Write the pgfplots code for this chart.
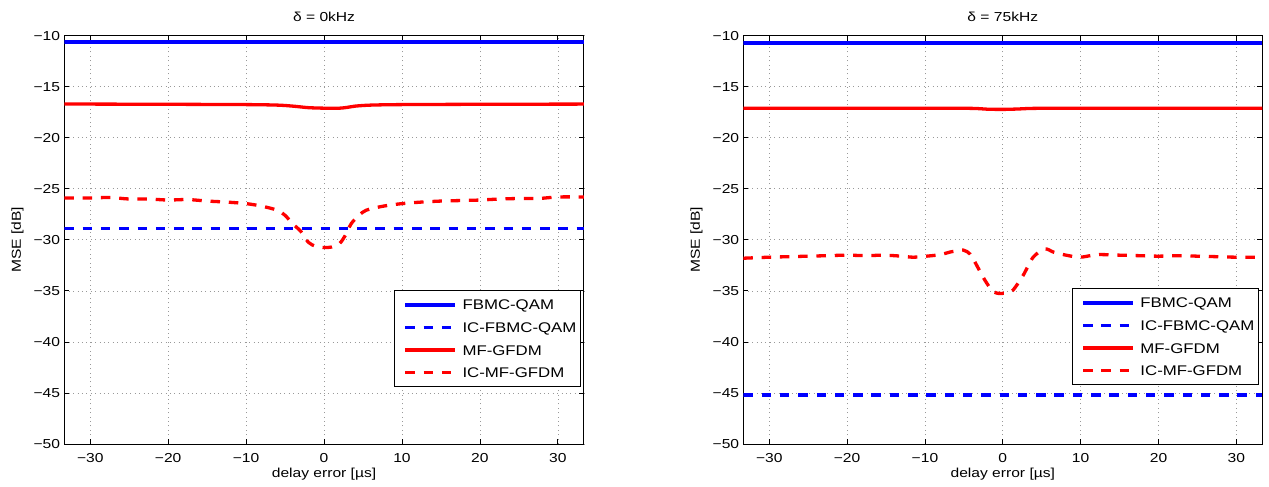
\documentclass[border=0pt]{standalone}
\usepackage{fontspec}
\setmainfont[FakeStretch=1.2]{Liberation Sans}
\usepackage{pgfplots}
\pgfplotsset{compat=1.18}
\pgfplotsset{
  myaxis/.style={
    scale only axis, width=519.5pt, height=408.3pt,
    xmin=-33.33, xmax=33.33, ymin=-50, ymax=-10,
    xtick={-30,-20,-10,0,10,20,30}, xticklabels={−30,−20,−10,0,10,20,30},
    ytick={-50,-45,-40,-35,-30,-25,-20,-15,-10},
    yticklabels={−50,−45,−40,−35,−30,−25,−20,−15,−10},
    tick align=inside, major tick length=5pt,
    every tick/.style={black, line width=0.8pt},
    axis line style={line width=0.9pt},
    grid=major, grid style={line width=0.7pt, color=black!40, dash pattern=on 0.9pt off 3.5pt},
    xticklabel style={font=\fontsize{13pt}{15pt}\selectfont, anchor=base, inner sep=0pt, yshift=-18.7pt},
    yticklabel style={font=\fontsize{13pt}{15pt}\selectfont, anchor=east, inner sep=0pt, xshift=-4pt},
    every axis x label/.style={font=\fontsize{13pt}{15pt}\selectfont, at={(axis description cs:0.5,0)}, anchor=base, yshift=-33.3pt},
    every axis y label/.style={font=\fontsize{13pt}{15pt}\selectfont, at={(axis description cs:-0.09,0.5)}, anchor=center, rotate=90},
    every axis title/.style={font=\fontsize{13pt}{15pt}\selectfont, at={(axis description cs:0.5,1)}, anchor=base, yshift=14pt},
    xlabel={delay error [µs]}, ylabel={MSE [dB]},
    legend cell align=left,
    legend image code/.code={\path[draw=none, fill=none] (0pt,0pt) -- (58.4pt,0pt); \draw[##1] (8.4pt,0pt) -- (58.4pt,0pt);},
    legend style={font=\fontsize{14pt}{16pt}\selectfont, draw=black, line width=0.9pt, fill=white, inner xsep=2.3pt, inner ysep=9pt,
      row sep=12.7pt, column sep=5.5pt,
      nodes={inner sep=0pt, text height=10pt, text depth=0pt, anchor=west, text width=115.5pt, align=left}},
  },
  bsolid/.style={color=blue, line width=3.7pt},
  bdash/.style={color=blue, line width=3.3pt, dash pattern=on 9.5pt off 8.8pt},
  rsolid/.style={color=red, line width=3.3pt, line join=round},
  rdash/.style={color=red, line width=3.3pt, dash pattern=on 9.5pt off 8.8pt, line join=round},
}
\begin{document}
\begin{tikzpicture}[font=\fontsize{13pt}{15pt}\selectfont]
\begin{axis}[myaxis, at={(64.3pt,43pt)}, anchor=south west, title={δ = 0kHz},
  legend style={at={(axis description cs:1,0)}, anchor=south east, xshift=-3pt, yshift=56.7pt}]
\addplot[bsolid] coordinates {(-33.33,-10.65) (33.33,-10.65)};
\addlegendentry{FBMC-QAM}
\addplot[bdash] coordinates {(-33.33,-28.9) (33.33,-28.9)};
\addlegendentry{IC-FBMC-QAM}
\addplot[rsolid, smooth] coordinates {
(-33.33,-16.7) (-30,-16.7) (-20,-16.72) (-10,-16.75) (-6,-16.8) (-4,-16.9) (-2,-17.05)
(0,-17.1) (2,-17.1) (3,-17.02) (4,-16.9) (6,-16.8) (10,-16.75) (20,-16.72) (33.33,-16.7)};
\addlegendentry{MF-GFDM}
\addplot[rdash, smooth, tension=0.5] coordinates {
(-33.33,-25.9) (-30,-25.9) (-27.5,-25.85) (-25,-26.0) (-22.5,-26.0) (-20,-26.1) (-17.5,-26.05)
(-15,-26.2) (-12.5,-26.3) (-10,-26.45) (-8,-26.7) (-6,-27.1) (-5,-27.6) (-4,-28.45) (-3,-29.15)
(-2,-30.25) (-1,-30.65) (0,-30.75) (1,-30.7) (2,-30.35) (2.7,-29.6) (3.5,-28.4) (4.5,-27.6)
(5.4,-27.1) (7.6,-26.7) (10,-26.45) (12.5,-26.3) (15,-26.2) (17.5,-26.15) (20,-26.1)
(22.5,-26.0) (25,-25.95) (27.5,-25.95) (30,-25.8) (33.33,-25.8)};
\addlegendentry{IC-MF-GFDM}
\end{axis}
\begin{axis}[myaxis, at={(743.3pt,43pt)}, anchor=south west, width=519pt, title={δ = 75kHz},
  legend style={at={(axis description cs:1,0)}, anchor=south east, xshift=-3.6pt, yshift=58.7pt}]
\addplot[bsolid] coordinates {(-33.33,-10.7) (33.33,-10.7)};
\addlegendentry{FBMC-QAM}
\addplot[bdash] coordinates {(-33.33,-45.2) (33.33,-45.2)};
\addlegendentry{IC-FBMC-QAM}
\addplot[rsolid, smooth] coordinates {
(-33.33,-17.1) (-20,-17.1) (-10,-17.1) (-4,-17.12) (-2,-17.2) (0,-17.22) (2,-17.18) (4,-17.12)
(10,-17.1) (20,-17.1) (33.33,-17.1)};
\addlegendentry{MF-GFDM}
\addplot[rdash, smooth, tension=0.5] coordinates {
(-33.33,-31.8) (-30,-31.7) (-27.5,-31.65) (-25,-31.6) (-22.5,-31.55) (-20,-31.5) (-17.5,-31.55)
(-15.3,-31.5) (-13,-31.6) (-11.5,-31.7) (-9.8,-31.6) (-8,-31.45) (-6.8,-31.2) (-5.1,-31.0)
(-4.2,-31.4) (-3.6,-32.15) (-2.3,-33.95) (-1.2,-35.1) (-0.15,-35.25) (0.8,-35.15) (1.35,-34.9)
(2.6,-33.5) (3.9,-31.7) (5.4,-30.9) (6.5,-31.2) (7.8,-31.45) (9.9,-31.7) (12.1,-31.45)
(15,-31.5) (17.5,-31.55) (20,-31.6) (22.5,-31.55) (25,-31.6) (27.5,-31.65) (30,-31.7) (33.33,-31.7)};
\addlegendentry{IC-MF-GFDM}
\end{axis}
\pgfresetboundingbox
\useasboundingbox (0pt,0pt) rectangle (1269pt,487pt);
\end{tikzpicture}
\end{document}
